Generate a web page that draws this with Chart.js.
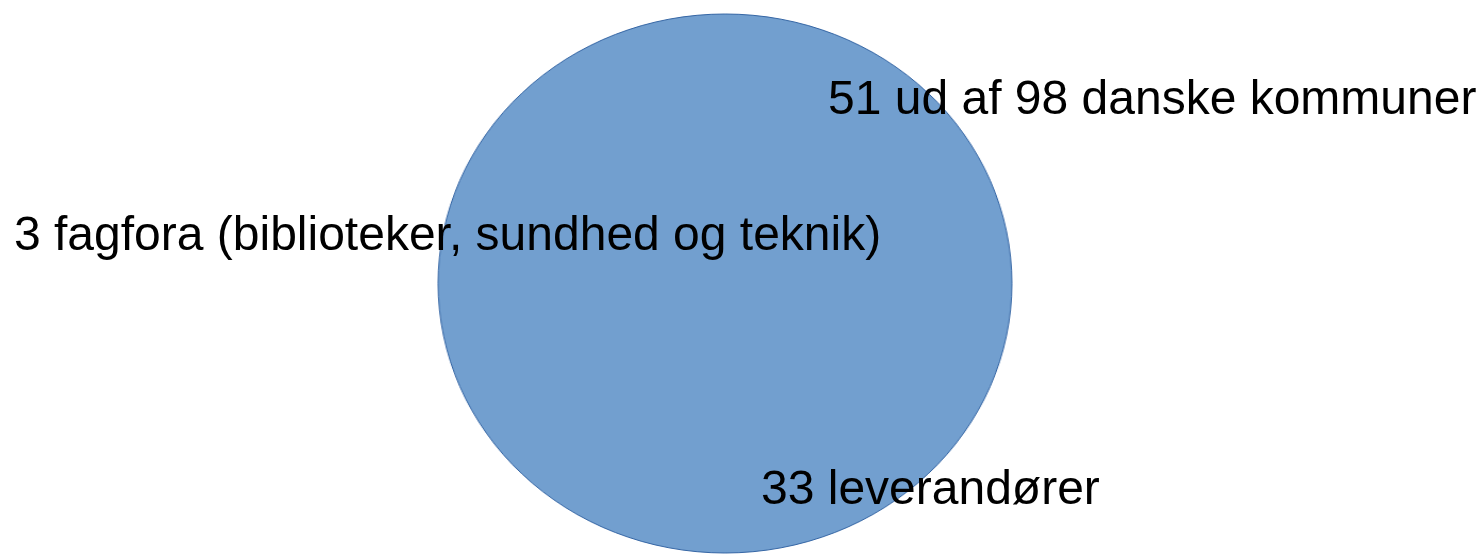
<!DOCTYPE html>
<html><head><meta charset="utf-8">
<script src="https://cdn.jsdelivr.net/npm/chart.js@4"></script>
<style>
html,body{margin:0;padding:0;background:#fff;width:1484px;height:554px;overflow:hidden;position:relative;}
#wrap{position:absolute;left:437px;top:13px;width:576px;height:541px;}
#c{display:block;width:576px;height:541px;}
.lbl{position:absolute;font-family:"Liberation Sans",Arial,sans-serif;font-size:48px;line-height:48px;color:#000;white-space:nowrap;}
</style>
</head><body>
<div id="wrap"><canvas id="c" width="541" height="541" style="width:576px;height:541px;"></canvas></div>
<div id="labels"></div>
<script>
const categories = ["kommuner, leverandører og fagfora"];
const xValues = [0];
const yValues = [0];
const labels = ["51 ud af 98 danske kommuner", "3 fagfora (biblioteker, sundhed og teknik)", "33 leverandører"];
const labelPos = [[828, 74], [14, 210], [761, 464]];

const host = document.getElementById('labels');
labels.forEach((t, i) => {
  const d = document.createElement('div');
  d.className = 'lbl';
  d.textContent = t;
  d.style.left = labelPos[i][0] + 'px';
  d.style.top = labelPos[i][1] + 'px';
  host.appendChild(d);
});

new Chart(document.getElementById('c'), {
  type: 'scatter',
  data: {
    datasets: [{
      label: categories[0],
      data: xValues.map((x, i) => ({ x: x, y: yValues[i] })),
      backgroundColor: '#729fcf',
      borderColor: '#3465a4',
      borderWidth: 1,
      pointRadius: 269.5,
      pointHoverRadius: 269.5,
      pointStyle: 'circle',
      clip: false
    }]
  },
  options: {
    responsive: false,
    animation: false,
    events: [],
    layout: { padding: 0 },
    scales: {
      x: { display: false, min: -1, max: 1 },
      y: { display: false, min: -1, max: 1 }
    },
    plugins: { legend: { display: false }, tooltip: { enabled: false } }
  }
});
</script>
</body></html>
